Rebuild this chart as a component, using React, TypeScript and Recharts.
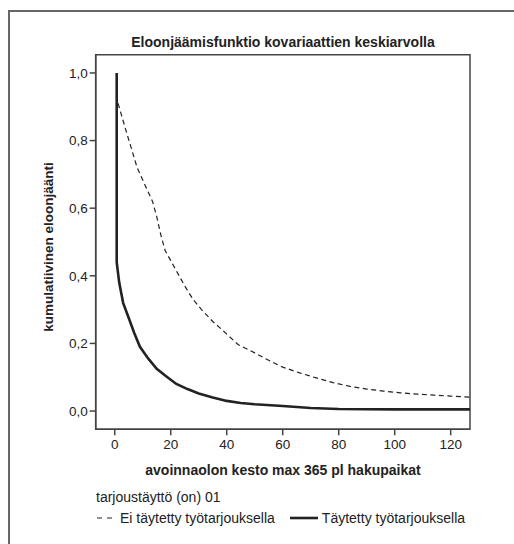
import { LineChart, Line, XAxis, YAxis, ReferenceArea } from 'recharts'

// Täytetty työtarjouksella (solid)
const tayttoDays = [0.7, 0.7, 1.6, 3, 5, 7, 9, 12, 15, 18, 22, 26, 30, 35, 40, 45, 50, 60, 70, 80, 100, 127]
const tayttoSurv = [1.0, 0.44, 0.38, 0.32, 0.275, 0.23, 0.19, 0.155, 0.125, 0.105, 0.08, 0.065, 0.052, 0.04, 0.03, 0.024, 0.02, 0.015, 0.009, 0.006, 0.005, 0.005]

// Ei täytetty työtarjouksella (dashed)
const eiDays = [1.2, 4, 8, 11, 13.5, 15, 16.5, 18, 20, 22, 25, 28, 31, 35, 38, 41, 44, 50, 55, 60, 66, 72, 78, 84, 90, 96, 102, 108, 114, 120, 127]
const eiSurv = [0.91, 0.83, 0.72, 0.665, 0.62, 0.575, 0.52, 0.475, 0.445, 0.415, 0.37, 0.33, 0.3, 0.265, 0.243, 0.22, 0.197, 0.172, 0.15, 0.13, 0.113, 0.098, 0.084, 0.073, 0.065, 0.059, 0.054, 0.05, 0.047, 0.044, 0.041]

const xTicks = [0, 20, 40, 60, 80, 100, 120]
const yTicks = [0, 0.2, 0.4, 0.6, 0.8, 1.0]

const title = 'Eloonjäämisfunktio kovariaattien keskiarvolla'
const xLabel = 'avoinnaolon kesto max 365 pl hakupaikat'
const yLabel = 'kumulatiivinen eloonjäänti'
const legendTitle = 'tarjoustäyttö (on) 01'
const legendNames = ['Ei täytetty työtarjouksella', 'Täytetty työtarjouksella']

const tayttoData = tayttoDays.map((x, i) => ({ x, y: tayttoSurv[i] }))
const eiData = eiDays.map((x, i) => ({ x, y: eiSurv[i] }))

const font = '"Liberation Sans", Arial, Helvetica, sans-serif'
const ink = '#222'
const axisColor = '#444'

export default function App() {
  const tick = { fontFamily: font, fontSize: 13.5, fill: ink }
  return (
    <div style={{ position: 'fixed', left: 0, top: 0, width: 514, height: 544, overflow: 'hidden', background: '#fff', fontFamily: font, color: ink }}>
      <div style={{ position: 'absolute', left: 8, top: 10, width: 600, height: 600, borderLeft: '2px solid #666', borderTop: '2px solid #666' }} />
      <LineChart width={514} height={544} margin={{ top: 54.7, right: 44, bottom: 84.7, left: 0 }}>
        <XAxis
          type="number"
          dataKey="x"
          domain={[-6.8, 126.9]}
          ticks={xTicks}
          allowDataOverflow
          height={30}
          tick={tick}
          tickSize={6}
          tickMargin={4}
          stroke={axisColor}
          strokeWidth={1.5}
        />
        <YAxis
          type="number"
          dataKey="y"
          domain={[-0.054, 1.054]}
          ticks={yTicks}
          allowDataOverflow
          width={95.7}
          tick={tick}
          tickSize={6}
          tickMargin={2}
          tickFormatter={(v: number) => v.toFixed(1).replace('.', ',')}
          stroke={axisColor}
          strokeWidth={1.5}
        />
        <ReferenceArea x1={-6.8} x2={126.9} y1={-0.054} y2={1.054} fill="none" stroke={axisColor} strokeWidth={1.5} />
        <Line data={eiData} dataKey="y" type="linear" stroke={ink} strokeWidth={1.2} strokeDasharray="5 3.5" dot={false} isAnimationActive={false} />
        <Line data={tayttoData} dataKey="y" type="linear" stroke={ink} strokeWidth={2.6} dot={false} isAnimationActive={false} />
      </LineChart>
      <div style={{ position: 'absolute', left: 83, width: 400, top: 34, textAlign: 'center', fontSize: 14, fontWeight: 'bold' }}>{title}</div>
      <div style={{ position: 'absolute', left: 83, width: 400, top: 462, textAlign: 'center', fontSize: 14, fontWeight: 'bold' }}>{xLabel}</div>
      <div style={{ position: 'absolute', left: 49, top: 247, width: 0, height: 0 }}>
        <div style={{ position: 'absolute', left: -150, top: -8, width: 300, textAlign: 'center', fontSize: 13.5, fontWeight: 'bold', transform: 'rotate(-90deg)', lineHeight: '16px' }}>{yLabel}</div>
      </div>
      <div style={{ position: 'absolute', left: 96, top: 489, fontSize: 14 }}>{legendTitle}</div>
      <div style={{ position: 'absolute', left: 97, top: 510, fontSize: 14, display: 'flex', alignItems: 'center', whiteSpace: 'nowrap' }}>
        <svg width={17} height={10}><line x1={0} y1={5} x2={17} y2={5} stroke={ink} strokeWidth={1.2} strokeDasharray="5 5" /></svg>
        <span style={{ marginLeft: 6 }}>{legendNames[0]}</span>
        <svg width={28} height={10} style={{ marginLeft: 15 }}><line x1={0} y1={5} x2={28} y2={5} stroke={ink} strokeWidth={2.6} /></svg>
        <span style={{ marginLeft: 4 }}>{legendNames[1]}</span>
      </div>
    </div>
  )
}
